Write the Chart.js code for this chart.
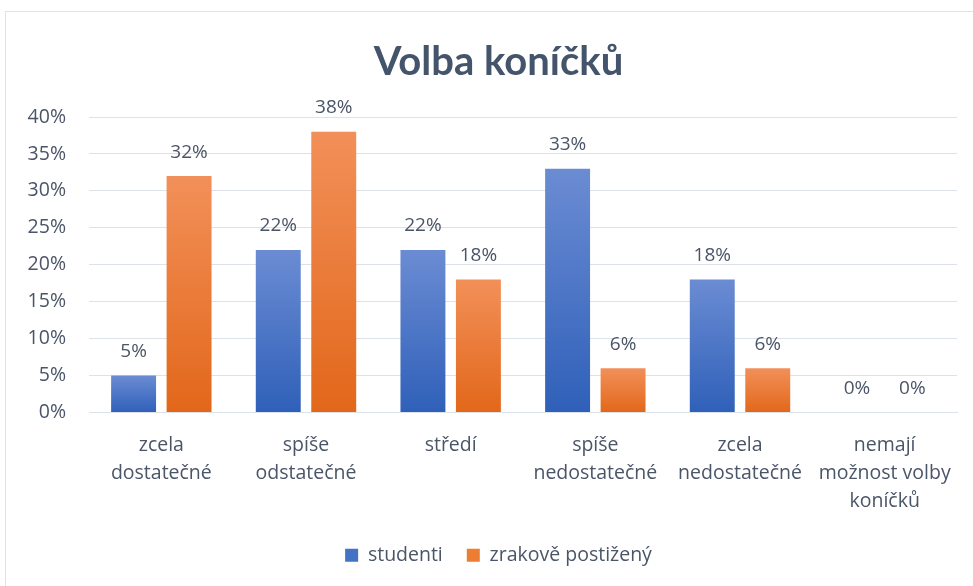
<!DOCTYPE html>
<html>
<head>
<meta charset="utf-8">
<script src="https://cdn.jsdelivr.net/npm/chart.js@4"></script>
<style>
  html, body { margin: 0; padding: 0; background: #fff; overflow: hidden; }
  #ramec { position: absolute; left: 5px; top: 11px; width: 1300px; height: 900px; border: 1px solid #dfe3ea; }
  #obal { position: absolute; left: 0; top: 0; width: 973px; height: 586px; }
</style>
</head>
<body>
<div id="ramec"></div>
<div id="obal"><canvas id="myChart"></canvas></div>
<script>
// Data
const kategorie = [
    ['zcela', 'dostatečné'],
    ['spíše', 'odstatečné'],
    ['středí'],
    ['spíše', 'nedostatečné'],
    ['zcela', 'nedostatečné'],
    ['nemají', 'možnost volby', 'koníčků']
];
const studenti = [5, 22, 22, 33, 18, 0];
const zrakove = [32, 38, 18, 6, 6, 0];
const popisky = ['studenti', 'zrakově postižený'];

const pismo = '"Open Sans"';
const barvaTextu = '#4a5568';

// gradient pro kazdy sloupec zvlast
function prechod(horni, dolni) {
    return function (ctx) {
        const chart = ctx.chart;
        if (!chart.chartArea || ctx.raw === undefined) return dolni;
        const y = chart.scales.y;
        const top = y.getPixelForValue(ctx.raw);
        const bottom = y.getPixelForValue(0);
        if (bottom - top < 1) return dolni;
        const g = chart.ctx.createLinearGradient(0, top, 0, bottom);
        g.addColorStop(0, horni);
        g.addColorStop(1, dolni);
        return g;
    };
}

// popisky hodnot nad sloupci
const hodnotyPlugin = {
    id: 'hodnoty',
    afterDatasetsDraw(chart) {
        const c = chart.ctx;
        c.save();
        c.font = '19px ' + pismo;
        c.fillStyle = barvaTextu;
        c.textAlign = 'center';
        c.textBaseline = 'middle';
        chart.data.datasets.forEach((ds, i) => {
            chart.getDatasetMeta(i).data.forEach((bar, j) => {
                c.fillText(ds.data[j] + '%', bar.x, bar.y - 24);
            });
        });
        c.restore();
    }
};

// titulek a legenda jsou v originale vycentrovane trochu vic vpravo
const posunPlugin = {
    id: 'posun',
    afterLayout(chart) {
        [chart.titleBlock, chart.legend].forEach(b => {
            if (!b) return;
            b.left += 40;
            b.width = b.right - b.left;
        });
    }
};

const data = {
    labels: kategorie,
    datasets: [{
        label: popisky[0],
        data: studenti,
        backgroundColor: prechod('#6b8cd3', '#2f60b9'),
        legendColor: '#4472c4'
    }, {
        label: popisky[1],
        data: zrakove,
        backgroundColor: prechod('#f29059', '#e2671a'),
        legendColor: '#ed7d31'
    }]
};

const config = {
    type: 'bar',
    data,
    plugins: [hodnotyPlugin, posunPlugin],
    options: {
        responsive: false,
        animation: false,
        categoryPercentage: 0.767,
        barPercentage: 0.81,
        layout: { padding: { left: 0, right: 16, top: 0, bottom: 11 } },
        scales: {
            x: {
                grid: { display: false, drawTicks: false },
                border: { display: true, color: '#dde1e8', width: 1 },
                ticks: {
                    color: barvaTextu,
                    font: { family: pismo, size: 19.5, lineHeight: 1.44 },
                    padding: 19,
                    maxRotation: 0,
                    autoSkip: false
                },
                afterFit(scale) { scale.height = 109; }
            },
            y: {
                min: 0,
                max: 40,
                grid: { color: '#dde1e8', lineWidth: 1, drawTicks: false },
                border: { display: false },
                ticks: {
                    stepSize: 5,
                    color: barvaTextu,
                    font: { family: pismo, size: 19.5 },
                    padding: 23,
                    callback: v => v + '%'
                },
                afterFit(scale) { scale.width = 89; }
            }
        },
        plugins: {
            title: {
                display: true,
                text: 'Volba koníčků',
                color: '#44546a',
                font: { family: 'Lato', size: 40, weight: 'bold', lineHeight: 1.2 },
                padding: { top: 38, bottom: 31 }
            },
            legend: {
                position: 'bottom',
                labels: {
                    color: barvaTextu,
                    font: { family: pismo, size: 19.5 },
                    boxWidth: 13,
                    boxHeight: 13,
                    padding: 24,
                    generateLabels(chart) {
                        return chart.data.datasets.map((ds, i) => ({
                            text: ds.label,
                            fillStyle: ds.legendColor,
                            strokeStyle: ds.legendColor,
                            lineWidth: 0,
                            fontColor: barvaTextu,
                            datasetIndex: i
                        }));
                    }
                }
            },
            tooltip: { enabled: false }
        }
    }
};

const canvas = document.getElementById('myChart');
canvas.width = 973;
canvas.height = 586;
var myChart = new Chart(canvas, config);
</script>
</body>
</html>
